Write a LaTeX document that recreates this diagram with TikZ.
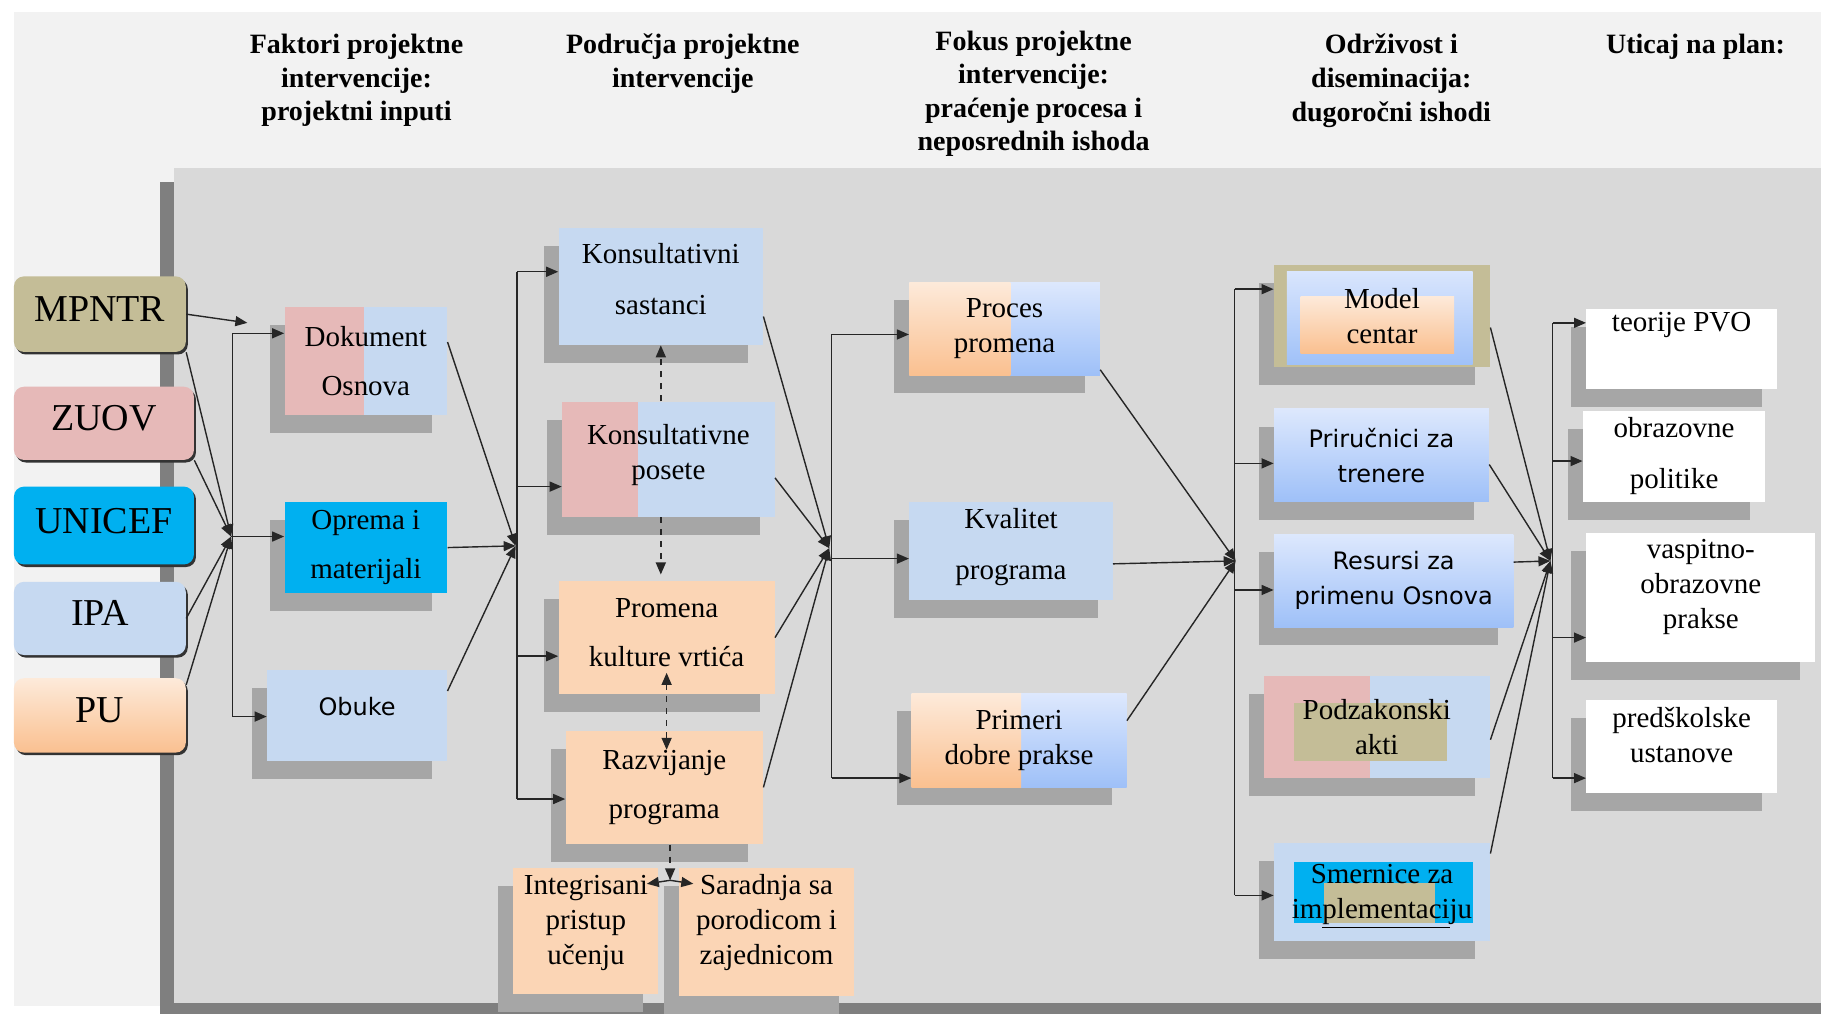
\documentclass[tikz,border=0pt]{standalone}
\usepackage{fontspec}
\setmainfont{Liberation Serif}
\setsansfont{DejaVu Sans}
\usetikzlibrary{arrows.meta,shadows,calc}

\definecolor{bglight}{HTML}{F2F2F2}
\definecolor{panel}{HTML}{D9D9D9}
\definecolor{panelrim}{HTML}{7F7F7F}
\definecolor{shd}{HTML}{A6A6A6}
\definecolor{tanc}{HTML}{C4BD97}
\definecolor{pinkc}{HTML}{E6B9B8}
\definecolor{cyanc}{HTML}{00B0F0}
\definecolor{bluec}{HTML}{C6D9F1}
\definecolor{peachc}{HTML}{FBD5B5}
\definecolor{ortop}{HTML}{FDEADA}
\definecolor{orbot}{HTML}{FAC090}
\definecolor{bltop}{HTML}{DDE8FD}
\definecolor{blbot}{HTML}{9EC0F8}

\tikzset{
  hdr/.style={font=\bfseries\fontsize{14}{16.8}\selectfont, align=center, anchor=north, inner sep=0pt},
  sz/.style 2 args={minimum width=#1*0.5807pt, minimum height=#2*0.5807pt},
  src/.style={rounded corners=5pt, inner sep=0pt, text depth=5pt, font=\fontsize{19}{22}\selectfont,
    drop shadow={shadow xshift=1pt, shadow yshift=-1.3pt, fill=black!80, opacity=1}},
  box/.style={inner sep=0pt, align=center, font=\fontsize{14.5}{17.5}\selectfont,
    drop shadow={shadow xshift=-7.5pt, shadow yshift=-9pt, fill=shd, opacity=1}},
  sans/.style={font=\sffamily\fontsize{12}{17.5}\selectfont},
  blgrad/.style={top color=bltop, bottom color=blbot},
  orgrad/.style={top color=ortop, bottom color=orbot},
  twotone/.style n args={3}{fill=#3, path picture={
    \fill[#2] (path picture bounding box.south west) rectangle ($(path picture bounding box.north west)!#1!(path picture bounding box.north east)$);}},
  halfgrad/.style={blgrad, path picture={
    \shade[orgrad] (path picture bounding box.south west) rectangle ($(path picture bounding box.north west)!#1!(path picture bounding box.north east)$);}},
  ln/.style={line width=0.7pt, draw=black!85},
}

\begin{document}
\begin{tikzpicture}[x=0.5807pt, y=-0.5807pt, >={Triangle[length=6pt,width=5pt]}]
\useasboundingbox (0,0) rectangle (1568,873);

\fill[bglight] (12,10) rectangle (1568,866);
\fill[panelrim] (138,157) rectangle (1568,873);
\fill[panel] (150,145) rectangle (1568,864);

\node[hdr] (h1) at (307,29) {Faktori projektne\\intervencije:\\projektni inputi};
\node[hdr] (h2) at (588,29) {Područja projektne\\intervencije};
\node[hdr] (h3) at (890,26) {Fokus projektne\\intervencije:\\praćenje procesa i\\neposrednih ishoda};
\node[hdr] (h4) at (1198,29) {Održivost i\\diseminacija:\\dugoročni ishodi};
\node[hdr] (h5) at (1460,29) {Uticaj na plan:};

\node[src, fill=tanc, sz={148}{65}] (mpntr) at (86,270.5) {MPNTR};
\node[src, fill=pinkc, sz={155}{63}] (zuov) at (89.5,364.5) {ZUOV};
\node[src, fill=cyanc, sz={155}{67}] (unicef) at (89.5,452.5) {UNICEF};
\node[src, fill=bluec, sz={148}{63}] (ipa) at (86,532.5) {IPA};
\node[src, orgrad, sz={148}{64}] (pu) at (86,616) {PU};

\node[box, twotone={0.49}{pinkc}{bluec}, sz={140}{93}] (dok) at (315,310.5) {Dokument\\[7pt]Osnova};
\node[box, fill=cyanc, sz={140}{79}] (opr) at (315,471.5) {Oprema i\\[7pt]materijali};
\node[box, sans, fill=bluec, sz={155}{78}, text depth=9pt] (obu) at (307.5,616) {Obuke};

\node[box, fill=bluec, sz={176}{101}, text depth=7pt] (kss) at (569,246.5) {Konsultativni\\[8pt]sastanci};
\node[box, twotone={0.355}{pinkc}{bluec}, sz={183}{99}, text depth=7.5pt] (kps) at (575.5,395.5) {Konsultativne\\posete};
\node[box, fill=peachc, sz={186}{98}, text depth=5.5pt] (pkv) at (574,549) {Promena\\[7pt]kulture vrtića};
\node[box, fill=peachc, sz={170}{98}] (raz) at (572,678) {Razvijanje\\[7pt]programa};
\node[box, fill=peachc, sz={125}{109}, text depth=11pt] (int) at (504.5,801.5) {Integrisani\\pristup\\učenju};
\node[box, fill=peachc, sz={150}{111}, text depth=12.5pt] (sar) at (660,802.5) {Saradnja sa\\porodicom i\\zajednicom};

\node[box, halfgrad=0.53, sz={164}{80}] (pp) at (865,283) {Proces\\promena};
\node[box, fill=bluec, sz={175}{85}, text depth=7.5pt] (kp) at (870.5,474.5) {Kvalitet\\[8pt]programa};
\node[box, halfgrad=0.51, sz={185}{81}] (pdp) at (877.5,637.5) {Primeri\\dobre prakse};

\node[box, fill=tanc, sz={186}{88}, path picture={
    \shade[blgrad] ([shift={(11,6)}]path picture bounding box.north west) rectangle ([shift={(-15,-2)}]path picture bounding box.south east);
    \shade[orgrad] ([shift={(23,27)}]path picture bounding box.north west) rectangle ([shift={(-31,-12)}]path picture bounding box.south east);}]
  (mc) at (1190,272) {Model\\centar};
\node[box, sans, blgrad, sz={185}{80}] (prt) at (1189.5,392) {Priručnici za\\trenere};
\node[box, sans, blgrad, sz={206}{80}] (rpo) at (1200,500) {Resursi za\\primenu Osnova};
\node[box, fill=bluec, sz={195}{88}, path picture={
    \fill[pinkc] (path picture bounding box.south west) rectangle ($(path picture bounding box.north west)!0.47!(path picture bounding box.north east)$);
    \fill[tanc] ([shift={(26,23)}]path picture bounding box.north west) rectangle ([shift={(-37,-15)}]path picture bounding box.south east);}]
  (pak) at (1185.5,626) {Podzakonski\\akti};
\node[box, fill=bluec, sz={186}{84}, text height=32pt, path picture={
    \fill[cyanc] ([shift={(17,16)}]path picture bounding box.north west) rectangle ([shift={(-15,-15)}]path picture bounding box.south east);
    \fill[tanc] ([shift={(43,34)}]path picture bounding box.north west) rectangle ([shift={(-47,-15)}]path picture bounding box.south east);}]
  (sim) at (1190,768) {Smernice za\\im\underline{plementaci}ju};

\node[box, fill=white, sz={164}{69}] (tpv) at (1448,300.5) {teorije PVO\\[4pt]\strut};
\node[box, fill=white, sz={157}{78}] (obp) at (1441.5,393) {obrazovne\\[8pt]politike};
\node[box, fill=white, sz={197}{111}, text depth=13.5pt] (vop) at (1464.5,514.5) {vaspitno-\\obrazovne\\prakse};
\node[box, fill=white, sz={164}{80}, text depth=11.5pt] (psu) at (1448,643) {predškolske\\ustanove};

\coordinate (mpe) at (213,278);
\coordinate (j1) at (199,462);
\coordinate (t1a) at (200,287);
\coordinate (t1b) at (200,617);
\coordinate (j2) at (444,470);
\coordinate (t2a) at (445,234);
\coordinate (t2b) at (445,419);
\coordinate (t2c) at (445,565);
\coordinate (t2d) at (445,688);
\coordinate (spl) at (577,758);
\coordinate (intin) at (557,761);
\coordinate (sarin) at (597,761);
\coordinate (j3) at (714,472);
\coordinate (t3a) at (716,288);
\coordinate (t3b) at (716,481);
\coordinate (t3c) at (716,670);
\coordinate (j4) at (1064,483);
\coordinate (t4a) at (1063,249);
\coordinate (t4b) at (1063,399);
\coordinate (t4c) at (1063,508);
\coordinate (t4d) at (1063,771);
\coordinate (j5) at (1335,483);
\coordinate (t5a) at (1337,278);
\coordinate (t5b) at (1337,397);
\coordinate (t5c) at (1337,549);
\coordinate (t5d) at (1337,670);

\draw[ln,->] (mpntr.east) -- (mpe);
\draw[ln,->] (mpntr.south east) -- (j1);
\draw[ln,->] (zuov.south east) -- (j1);
\draw[ln,->] (ipa.east) -- (j1);
\draw[ln,->] ([shift={(0,6)}]pu.north east) -- (j1);
\draw[ln] (t1a) -- (t1b);
\draw[ln,->] (t1a) -- (t1a -| dok.west);
\draw[ln,->] (j1) -- (j1 -| opr.west);
\draw[ln,->] (t1b) -- (t1b -| obu.west);

\draw[ln,->] ([shift={(0,-16)}]dok.east) -- (j2);
\draw[ln,->] (opr.east) -- (j2);
\draw[ln,->] ([shift={(0,-21)}]obu.east) -- (j2);
\draw[ln] (t2a) -- (t2d);
\draw[ln,->] (t2a) -- (t2a -| kss.west);
\draw[ln,->] (t2b) -- (t2b -| kps.west);
\draw[ln,->] (t2c) -- (t2c -| pkv.west);
\draw[ln,->] (t2d) -- (t2d -| raz.west);

\draw[ln,dashed,->] (kps.north -| kss.south) -- (kss.south);
\draw[ln,dashed,->] (kps.south -| kss.south) -- ([shift={(0,-5)}]kss.south |- pkv.north);
\draw[ln,dashed,<->] ([shift={(0,-19)}]pkv.south) -- ([shift={(0,17)}]pkv.south |- raz.north);
\draw[ln,dashed,->] (raz.south -| spl) -- (spl);
\draw[ln,->] (spl) -- (intin);
\draw[ln,->] (spl) -- (sarin);

\draw[ln,->] ([shift={(0,26)}]kss.east) -- (j3);
\draw[ln,->] ([shift={(0,16)}]kps.east) -- (j3);
\draw[ln,->] (pkv.east) -- (j3);
\draw[ln,->] (raz.east) -- (j3);
\draw[ln] (t3a) -- (t3c);
\draw[ln,->] (t3a) -- (t3a -| pp.west);
\draw[ln,->] (t3b) -- (t3b -| kp.west);
\draw[ln,->] (t3c) -- (t3c -| pdp.west);

\draw[ln,->] ([shift={(0,-5)}]pp.south east) -- (j4);
\draw[ln,->] ([shift={(0,11)}]kp.east) -- (j4);
\draw[ln,->] ([shift={(0,-17)}]pdp.east) -- (j4);
\draw[ln] (t4a) -- (t4d);
\draw[ln,->] (t4a) -- (t4a -| mc.west);
\draw[ln,->] (t4b) -- (t4b -| prt.west);
\draw[ln,->] (t4c) -- (t4c -| rpo.west);
\draw[ln,->] (t4d) -- (t4d -| sim.west);

\draw[ln,->] ([shift={(0,10)}]mc.east) -- (j5);
\draw[ln,->] ([shift={(0,8)}]prt.east) -- (j5);
\draw[ln,->] ([shift={(0,-16)}]rpo.east) -- (j5);
\draw[ln,->] ([shift={(0,11)}]pak.east) -- (j5);
\draw[ln,->] ([shift={(0,-33)}]sim.east) -- (j5);
\draw[ln] (t5a) -- (t5d);
\draw[ln,->] (t5a) -- (t5a -| tpv.west);
\draw[ln,->] (t5b) -- (t5b -| obp.west);
\draw[ln,->] (t5c) -- (t5c -| vop.west);
\draw[ln,->] (t5d) -- (t5d -| psu.west);

\end{tikzpicture}
\end{document}
